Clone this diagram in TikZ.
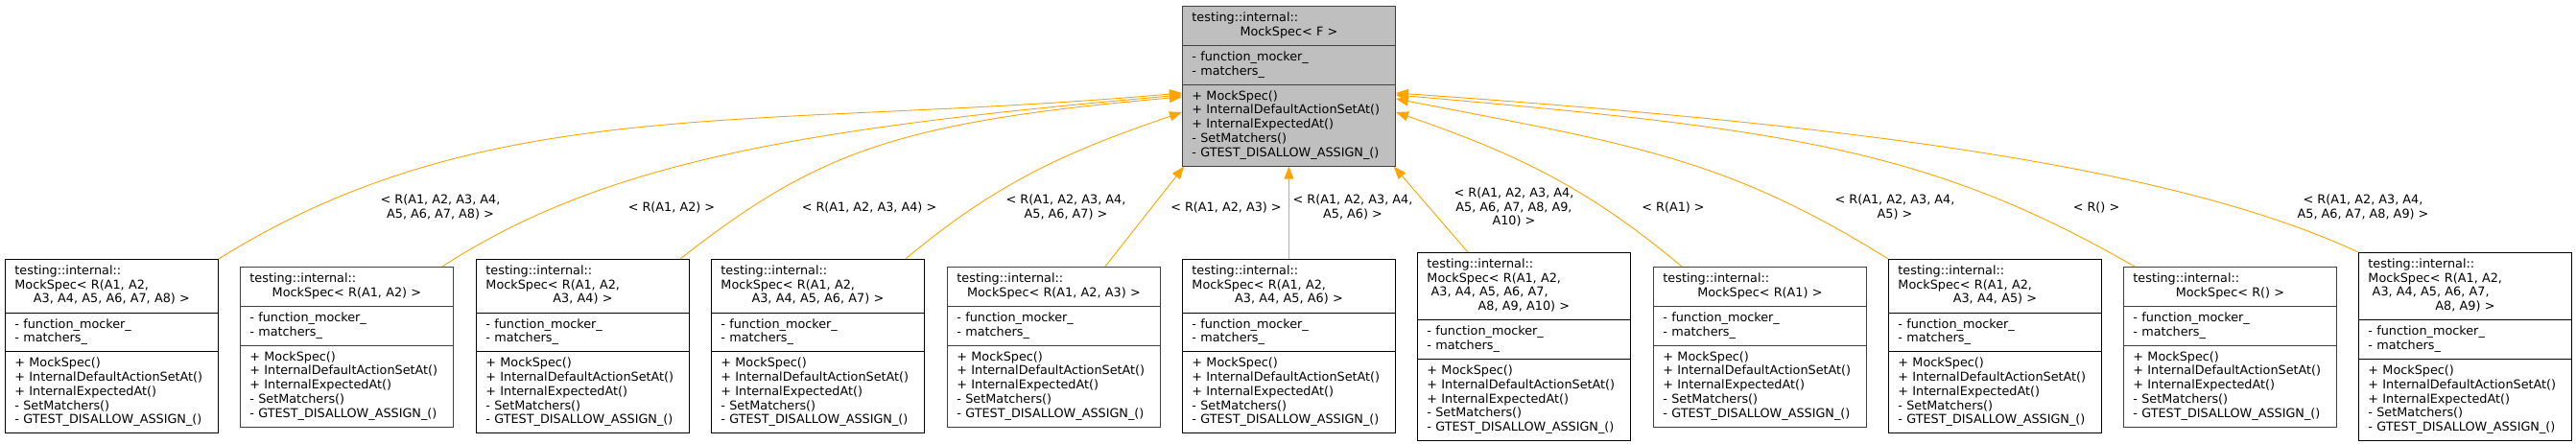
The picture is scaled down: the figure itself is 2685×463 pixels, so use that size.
\documentclass[tikz,border=0pt]{standalone}
\usepackage{fontspec}
\newfontfamily\doxfont{DejaVu Sans}
\usetikzlibrary{arrows.meta, shapes.multipart}

\definecolor{edgeorange}{HTML}{FFA500}
\definecolor{basegray}{HTML}{BFBFBF}
\definecolor{linegray}{HTML}{404040}

\newlength{\mocktw}
\setlength{\mocktw}{202pt}
\newcommand{\mockns}{\strut testing::internal::}
\newcommand{\mockctr}[1]{\strut\makebox[\mocktw][c]{#1}}
\newcommand{\mockattrs}{\strut- function\_mocker\_\\\strut- matchers\_}
\newcommand{\mockops}{\strut+ MockSpec()\\\strut+ InternalDefaultActionSetAt()\\\strut+ InternalExpectedAt()\\\strut- SetMatchers()\\\strut- GTEST\_DISALLOW\_ASSIGN\_()}

\begin{document}
\begin{tikzpicture}[x=1pt, y=1pt,
    cls/.style={
        rectangle split, rectangle split parts=3,
        draw=black, line width=0.9pt, fill=white,
        text width=\mocktw, align=left,
        inner xsep=10pt, inner ysep=5.3pt,
        font=\doxfont\fontsize{12.8}{14.7}\selectfont,
        anchor=north west
    },
    clsgray/.style={cls, draw=linegray},
    inh/.style={-{Triangle[length=13pt, width=10pt]}, draw=edgeorange, line width=0.9pt},
    lbl/.style={font=\doxfont\fontsize{12.8}{14.7}\selectfont, align=center, inner sep=0pt}
]
    \useasboundingbox (0,0) rectangle (2685,463);
    \fill[white] (0,0) rectangle (2685,463);

    % Template class at the top
    \node[cls, fill=basegray, draw=linegray] (spec) at (1232,457)
        {\mockns\\\mockctr{MockSpec< F >}\nodepart{two}\mockattrs\nodepart{three}\mockops};

    % Instantiations, one row
    \node[cls] (i1) at (5,193)
        {\mockns\\\strut MockSpec< R(A1, A2,\\\mockctr{A3, A4, A5, A6, A7, A8) >}\nodepart{two}\mockattrs\nodepart{three}\mockops};
    \node[clsgray] (i2) at (250,185)
        {\mockns\\\mockctr{MockSpec< R(A1, A2) >}\nodepart{two}\mockattrs\nodepart{three}\mockops};
    \node[cls] (i3) at (496,193)
        {\mockns\\\strut MockSpec< R(A1, A2,\\\mockctr{A3, A4) >}\nodepart{two}\mockattrs\nodepart{three}\mockops};
    \node[cls] (i4) at (741,193)
        {\mockns\\\strut MockSpec< R(A1, A2,\\\mockctr{A3, A4, A5, A6, A7) >}\nodepart{two}\mockattrs\nodepart{three}\mockops};
    \node[clsgray] (i5) at (987,185)
        {\mockns\\\mockctr{MockSpec< R(A1, A2, A3) >}\nodepart{two}\mockattrs\nodepart{three}\mockops};
    \node[cls] (i6) at (1232,193)
        {\mockns\\\strut MockSpec< R(A1, A2,\\\mockctr{A3, A4, A5, A6) >}\nodepart{two}\mockattrs\nodepart{three}\mockops};
    \node[cls] (i7) at (1477,200)
        {\mockns\\\strut MockSpec< R(A1, A2,\\\strut\ A3, A4, A5, A6, A7,\\\mockctr{A8, A9, A10) >}\nodepart{two}\mockattrs\nodepart{three}\mockops};
    \node[clsgray] (i8) at (1723,185)
        {\mockns\\\mockctr{MockSpec< R(A1) >}\nodepart{two}\mockattrs\nodepart{three}\mockops};
    \node[cls] (i9) at (1968,193)
        {\mockns\\\strut MockSpec< R(A1, A2,\\\mockctr{A3, A4, A5) >}\nodepart{two}\mockattrs\nodepart{three}\mockops};
    \node[clsgray] (i10) at (2213,185)
        {\mockns\\\mockctr{MockSpec< R() >}\nodepart{two}\mockattrs\nodepart{three}\mockops};
    \node[cls] (i11) at (2458,200)
        {\mockns\\\strut MockSpec< R(A1, A2,\\\strut\ A3, A4, A5, A6, A7,\\\mockctr{A8, A9) >}\nodepart{two}\mockattrs\nodepart{three}\mockops};

    % Arrow ends on the sides of the template box
    \coordinate (w1) at ([yshift=-91pt]spec.north west);
    \coordinate (w2) at ([yshift=-93pt]spec.north west);
    \coordinate (w3) at ([yshift=-95pt]spec.north west);
    \coordinate (w4) at ([yshift=-111pt]spec.north west);
    \coordinate (e8) at ([yshift=-111pt]spec.north east);
    \coordinate (e9) at ([yshift=-97pt]spec.north east);
    \coordinate (e10) at ([yshift=-93pt]spec.north east);
    \coordinate (e11) at ([yshift=-91pt]spec.north east);

    % Instantiation edges
    \draw[inh] (i1.north east) .. controls +(32:330) and +(185:450) .. (w1);
    \draw[inh] ([xshift=-12pt]i2.north east) .. controls +(33:200) and +(185:400) .. (w2);
    \draw[inh] ([xshift=-10pt]i3.north east) .. controls +(38:180) and +(185:300) .. (w3);
    \draw[inh] ([xshift=-20pt]i4.north east) .. controls +(40:130) and +(199:120) .. (w4);
    \draw[inh] ([xshift=-58pt]i5.north east) -- ([xshift=2pt]spec.south west);
    \draw[inh] (i6.north) -- (spec.south);
    \draw[inh] ([xshift=53pt]i7.north west) -- ([xshift=-2pt]spec.south east);
    \draw[inh] ([xshift=30pt]i8.north west) .. controls +(140:130) and +(-19:130) .. (e8);
    \draw[inh] (i9.north west) .. controls +(148:200) and +(-11:250) .. (e9);
    \draw[inh] ([xshift=12pt]i10.north west) .. controls +(150:250) and +(-5:400) .. (e10);
    \draw[inh] (i11.north west) .. controls +(155:220) and +(-4:450) .. (e11);

    % Template argument labels
    \node[lbl] (l1) at (459,247) {< R(A1, A2, A3, A4,\\A5, A6, A7, A8) >};
    \node[lbl] (l2) at (700,247) {< R(A1, A2) >};
    \node[lbl] (l3) at (906,247) {< R(A1, A2, A3, A4) >};
    \node[lbl] (l4) at (1111,247) {< R(A1, A2, A3, A4,\\A5, A6, A7) >};
    \node[lbl] (l5) at (1278,247) {< R(A1, A2, A3) >};
    \node[lbl] (l6) at (1410,247) {< R(A1, A2, A3, A4,\\A5, A6) >};
    \node[lbl] (l7) at (1578,247) {< R(A1, A2, A3, A4,\\A5, A6, A7, A8, A9,\\A10) >};
    \node[lbl] (l8) at (1744,247) {< R(A1) >};
    \node[lbl] (l9) at (1975,247) {< R(A1, A2, A3, A4,\\A5) >};
    \node[lbl] (l10) at (2185,247) {< R() >};
    \node[lbl] (l11) at (2463,247) {< R(A1, A2, A3, A4,\\A5, A6, A7, A8, A9) >};
\end{tikzpicture}
\end{document}
